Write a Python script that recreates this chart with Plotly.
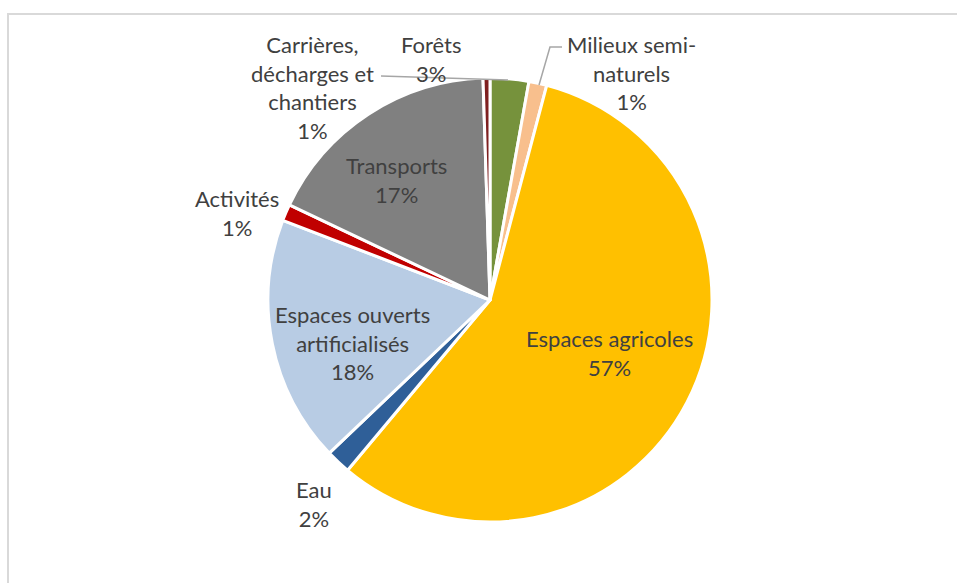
import plotly.graph_objects as go

categories = ["Forêts", "Milieux semi-naturels", "Espaces agricoles", "Eau",
              "Espaces ouverts artificialisés", "Activités", "Transports",
              "Carrières, décharges et chantiers"]
values = [2.8, 1.3, 56.8, 1.8, 17.9, 1.2, 17.4, 0.5]
colors = ["#76923C", "#F8BF8D", "#FFC000", "#2F5F98", "#B8CCE4", "#C00000",
          "#808080", "#7F2020"]
# label text as displayed (line breaks as in the reference)
label_text = ["Forêts", "Milieux semi-<br>naturels", "Espaces agricoles", "Eau",
              "Espaces ouverts<br>artificialisés", "Activités", "Transports",
              "Carrières,<br>décharges et<br>chantiers"]

W, H = 957, 583
def px(x):
    return x / W
def py(y):
    return 1 - y / H

total = sum(values)
pcts = [f"{round(v / total * 100)}%" for v in values]

fig = go.Figure(go.Pie(
    labels=categories, values=values, sort=False, direction="clockwise",
    rotation=0, marker=dict(colors=colors, line=dict(color="white", width=3)),
    textinfo="none", hoverinfo="label+percent", showlegend=False,
    domain=dict(x=[px(268), px(712)], y=[py(522), py(78)]),
))

# label centres (pixels)
label_pos = [(431, 59), (631, 73), (609, 353), (314, 504), (352, 343),
             (237, 213), (396, 180), (312, 87)]
annotations = []
for txt, pct, (x, y) in zip(label_text, pcts, label_pos):
    annotations.append(dict(
        x=px(x), y=py(y), xref="paper", yref="paper", showarrow=False,
        text=f"{txt}<br>{pct}", align="center", xanchor="center", yanchor="middle",
        font=dict(family="Lato, Carlito, sans-serif", size=22, color="#404040"),
    ))

shapes = [
    # chart area border
    dict(type="rect", xref="paper", yref="paper", x0=px(8), y0=py(H + 20),
         x1=px(W + 20), y1=py(14), line=dict(color="#D9D9D9", width=2),
         layer="below"),
    # leader lines
    dict(type="path", xref="paper", yref="paper",
         path=f"M {px(381)},{py(76)} L {px(508)},{py(80)}",
         line=dict(color="#A6A6A6", width=1.5)),
    dict(type="path", xref="paper", yref="paper",
         path=f"M {px(539)},{py(85)} L {px(550)},{py(47)} L {px(562)},{py(47)}",
         line=dict(color="#A6A6A6", width=1.5)),
]

fig.update_layout(
    width=W, height=H, margin=dict(l=0, r=0, t=0, b=0),
    paper_bgcolor="white", plot_bgcolor="white",
    annotations=annotations, shapes=shapes,
)
fig.write_html("out.html")
